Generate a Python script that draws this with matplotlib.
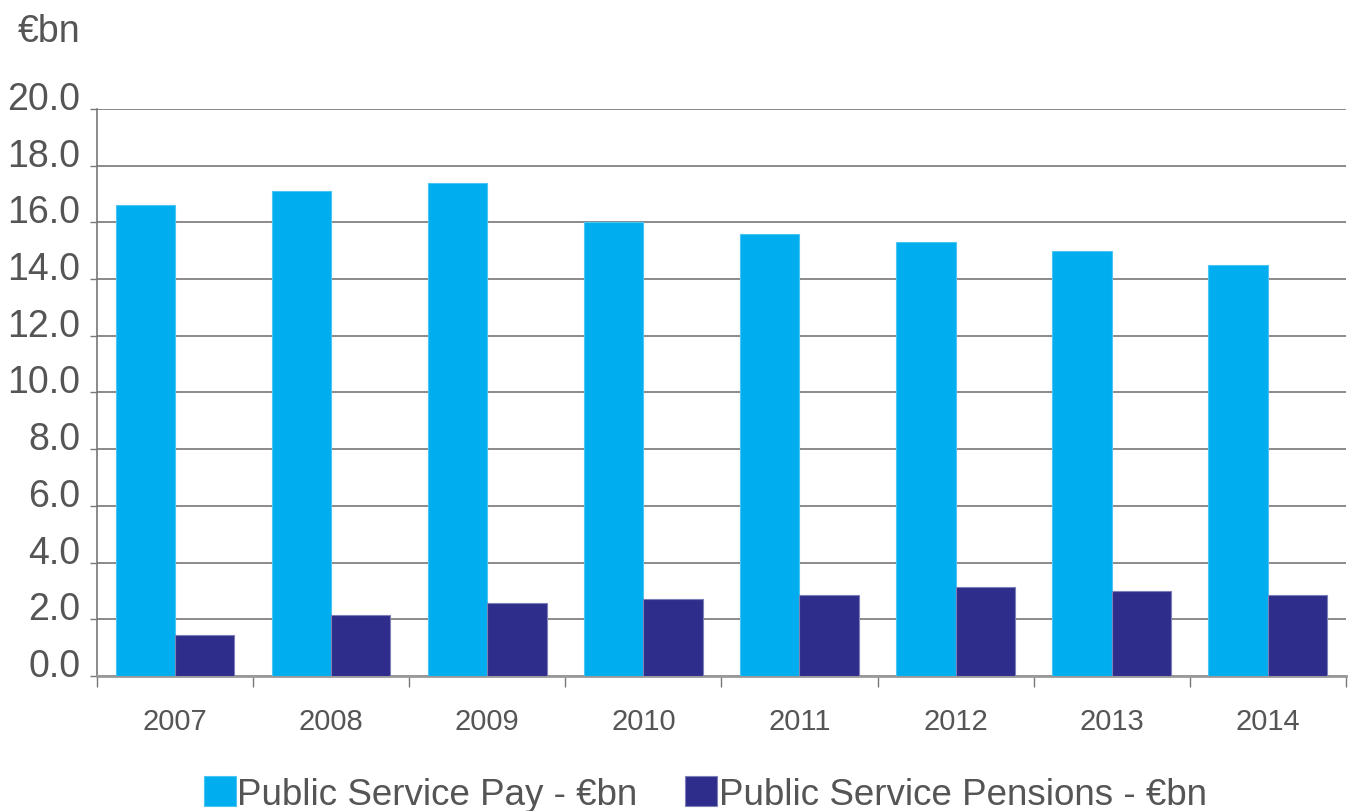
import matplotlib
matplotlib.use("Agg")
import matplotlib.pyplot as plt
import matplotlib.transforms as mtransforms
import numpy as np

years = ["2007", "2008", "2009", "2010", "2011", "2012", "2013", "2014"]
pay = [16.6, 17.1, 17.4, 16.0, 15.6, 15.3, 15.0, 14.5]
pensions = [1.45, 2.15, 2.57, 2.72, 2.86, 3.14, 3.0, 2.86]
yticks = [0.0, 2.0, 4.0, 6.0, 8.0, 10.0, 12.0, 14.0, 16.0, 18.0, 20.0]

plt.rcParams['font.family'] = ['Liberation Sans', 'DejaVu Sans']
txt = '#555555'

fig = plt.figure(figsize=(13.54, 8.12), dpi=100)
ax = fig.add_axes([0.0716, 0.1663, 0.9224, 0.6982])

x = np.arange(len(years))
w = 0.38
c1 = '#00AEEF'
c2 = '#2E2D8C'
ax.bar(x - w/2, pay, w, color=c1, edgecolor='#4cc4f2', linewidth=0.8, label='Public Service Pay - €bn', zorder=3)
ax.bar(x + w/2, pensions, w, color=c2, edgecolor='#7f7fb8', linewidth=0.8, label='Public Service Pensions - €bn', zorder=3)

ax.set_xlim(-0.5, len(years) - 0.5)
ax.set_ylim(0, 20)
ax.set_yticks(yticks)
ax.set_yticklabels([f"{v:.1f}" for v in yticks], fontsize=27, color=txt)
shift = mtransforms.ScaledTranslation(0, -2/100, fig.dpi_scale_trans)
for lab in ax.get_yticklabels():
    lab.set_verticalalignment('baseline')
    lab.set_transform(lab.get_transform() + shift)
ax.yaxis.grid(True, color='#8a8a8a', linewidth=1.4, zorder=0)
ax.set_axisbelow(True)

ax.set_xticks(np.arange(-0.5, len(years), 1.0))
ax.set_xticklabels([])
ax.set_xticks(x, minor=True)
ax.set_xticklabels(years, minor=True, fontsize=21, color=txt)
ax.tick_params(axis='x', which='major', length=8, width=1, color='#777777', direction='out')
ax.tick_params(axis='x', which='minor', length=0, pad=22)
ax.tick_params(axis='y', length=5, width=1, color='#777777', pad=7)

for s in ['top', 'right']:
    ax.spines[s].set_visible(False)
ax.spines['left'].set_color('#777777')
ax.spines['left'].set_linewidth(1.2)
ax.spines['bottom'].set_color('#999999')
ax.spines['bottom'].set_linewidth(2)

fig.text(0.013, 0.96, '€bn', fontsize=27, color=txt, ha='left', va='center')

leg = fig.legend(loc='center', bbox_to_anchor=(0.521, 0.021), ncol=2, frameon=False,
                 fontsize=26.5, handlelength=0.85, handleheight=0.85, handletextpad=0.05,
                 columnspacing=1.3, labelcolor=txt, borderaxespad=0)

fig.savefig('out.png', dpi=100)
